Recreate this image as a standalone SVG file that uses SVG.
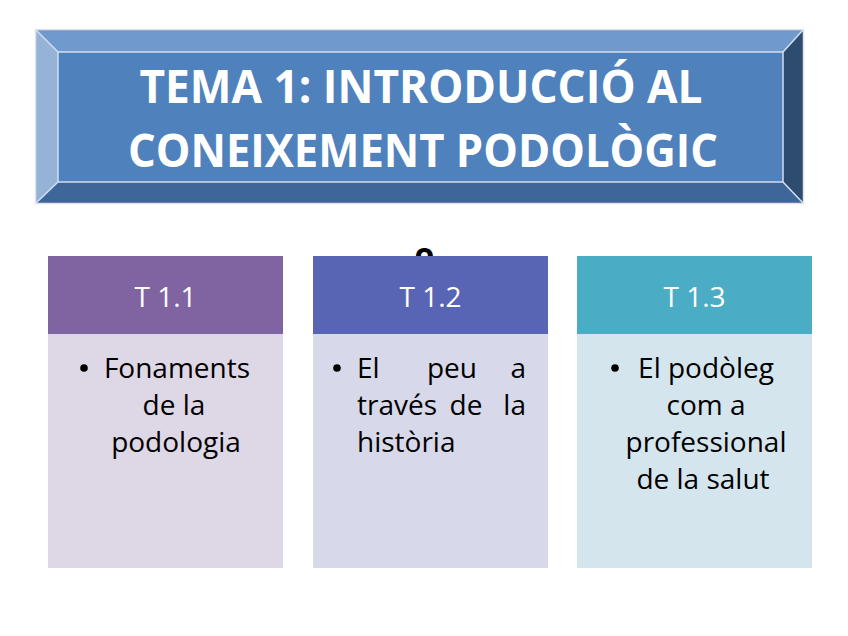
<svg xmlns="http://www.w3.org/2000/svg" width="848" height="636" viewBox="0 0 848 636">
<style>
.title{font-family:"Open Sans","Liberation Sans",sans-serif;font-weight:bold;font-size:46px;fill:#ffffff;text-anchor:middle}
.head{font-family:"Open Sans","Liberation Sans",sans-serif;font-size:28px;fill:#ffffff;text-anchor:middle}
.body{font-family:"Open Sans","Liberation Sans",sans-serif;font-size:28px;fill:#000000}
.mid{text-anchor:middle}
.edge{stroke:#d3def0;stroke-width:1.5;fill:none}
</style>
<rect width="848" height="636" fill="#ffffff"/>
<g id="title">
  <polygon points="36,30 803,30 783,52 58,52" fill="#7099cd"/>
  <polygon points="36,30 58,52 58,182 36,203" fill="#95b3d7"/>
  <polygon points="803,30 803,203 783,182 783,52" fill="#2e4b70"/>
  <polygon points="36,203 803,203 783,182 58,182" fill="#3e6699"/>
  <rect x="58" y="52" width="725" height="130" fill="#4f81bd"/>
  <rect x="58" y="52" width="725" height="130" class="edge"/>
  <path d="M36,30 L58,52 M803,30 L783,52 M803,203 L783,182 M36,203 L58,182" class="edge"/>
  <rect x="35.5" y="29.5" width="768" height="174" fill="none" stroke="#e2e2f0" stroke-width="1.5"/>
  <text class="title" x="421" y="103" textLength="563" lengthAdjust="spacingAndGlyphs">TEMA 1: INTRODUCCIÓ AL</text>
  <text class="title" x="423" y="167" textLength="590" lengthAdjust="spacingAndGlyphs">CONEIXEMENT PODOLÒGIC</text>
</g>
<text x="424.5" y="266" font-family="Open Sans, Liberation Sans, sans-serif" font-size="32" font-weight="bold" text-anchor="middle" fill="#000000">o</text>
<g id="t11">
  <rect x="48" y="334" width="235" height="234" fill="#ded7e6"/>
  <rect x="48" y="256" width="235" height="78" fill="#8064a2"/>
  <text class="head" x="165.5" y="307">T 1.1</text>
  <circle cx="84" cy="368" r="3.8" fill="#000000"/>
  <text class="body mid" x="177" y="378">Fonaments</text>
  <text class="body mid" x="174" y="415">de la</text>
  <text class="body mid" x="176" y="452">podologia</text>
</g>
<g id="t12">
  <rect x="313" y="334" width="235" height="234" fill="#d7d9ea"/>
  <rect x="313" y="256" width="235" height="78" fill="#5865b4"/>
  <text class="head" x="430.5" y="307">T 1.2</text>
  <circle cx="337" cy="368" r="3.8" fill="#000000"/>
  <text class="body" x="357" y="378">El</text>
  <text class="body mid" x="452" y="378">peu</text>
  <text class="body" x="526" y="378" text-anchor="end">a</text>
  <text class="body" x="357" y="415">través</text>
  <text class="body mid" x="466" y="415">de</text>
  <text class="body" x="526" y="415" text-anchor="end">la</text>
  <text class="body" x="357" y="452">història</text>
</g>
<g id="t13">
  <rect x="577" y="334" width="235" height="234" fill="#d5e5ed"/>
  <rect x="577" y="256" width="235" height="78" fill="#4bacc6"/>
  <text class="head" x="694.5" y="307">T 1.3</text>
  <circle cx="615" cy="368" r="3.8" fill="#000000"/>
  <text class="body mid" x="706" y="378">El podòleg</text>
  <text class="body mid" x="706" y="415">com a</text>
  <text class="body mid" x="706" y="452">professional</text>
  <text class="body mid" x="703" y="489">de la salut</text>
</g>
<g id="connectors"></g>
</svg>
